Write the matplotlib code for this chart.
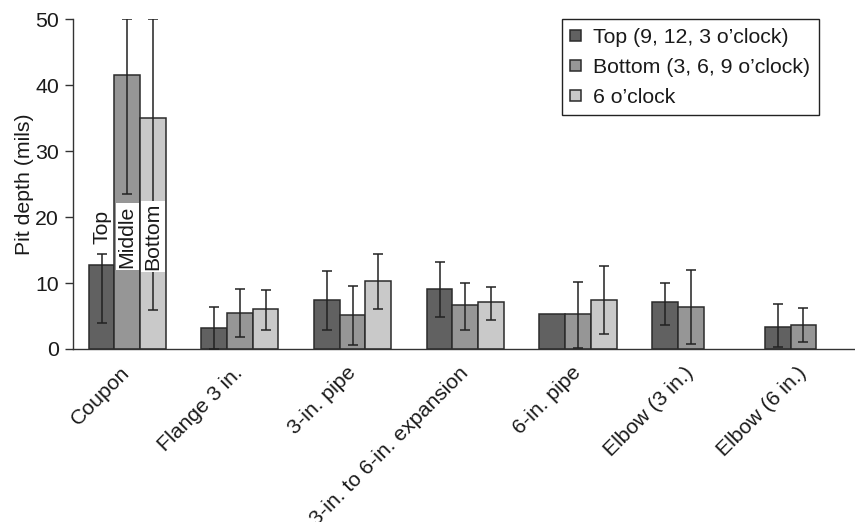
import numpy as np
import matplotlib
matplotlib.use("Agg")
import matplotlib.pyplot as plt

plt.rcParams['font.family'] = ['Liberation Sans', 'DejaVu Sans']

categories = ["Coupon", "Flange 3 in.", "3-in. pipe", "3-in. to 6-in. expansion",
              "6-in. pipe", "Elbow (3 in.)", "Elbow (6 in.)"]
series_names = ["Top (9, 12, 3 o\u2019clock)", "Bottom (3, 6, 9 o\u2019clock)", "6 o\u2019clock"]

nan = np.nan
top_mean = [12.8, 3.2, 7.5, 9.1, 5.3, 7.1, 3.4]
top_low = [3.9, 0.0, 2.9, 4.8, nan, 3.7, 0.35]
top_high = [14.4, 6.4, 11.9, 13.2, nan, 10.05, 6.9]

bottom_mean = [41.6, 5.5, 5.1, 6.6, 5.3, 6.4, 3.6]
bottom_low = [23.5, 1.8, 0.55, 2.9, 0.2, 0.75, 1.1]
bottom_high = [50.0, 9.15, 9.55, 10.05, 10.2, 12.05, 6.2]

six_mean = [35.1, 6.0, 10.3, 7.1, 7.4, nan, nan]
six_low = [5.85, 2.9, 6.05, 4.4, 2.3, nan, nan]
six_high = [50.0, 9.0, 14.35, 9.35, 12.6, nan, nan]

fills = ["#616161", "#969696", "#c9c9c9"]
edge = "#2b2b2b"
fs = 15.3

fig = plt.figure(figsize=(8.55, 5.22), dpi=100)
ax = fig.add_axes([72.7 / 855, 1 - 349 / 522, (854 - 72.7) / 855, (349 - 19.3) / 522])

x = np.arange(len(categories))
width = 0.228
groups = [(top_mean, top_low, top_high),
          (bottom_mean, bottom_low, bottom_high),
          (six_mean, six_low, six_high)]
for i, (mean, lo, hi) in enumerate(groups):
    mean = np.array(mean, float)
    lo = np.array(lo, float)
    hi = np.array(hi, float)
    pos = x + (i - 1) * width
    has_bar = ~np.isnan(mean)
    ax.bar(pos[has_bar], mean[has_bar], width, color=fills[i], edgecolor=edge,
           linewidth=1.1, label=series_names[i], zorder=2)
    ok = ~np.isnan(lo)
    ax.errorbar(pos[ok], mean[ok], yerr=[mean[ok] - lo[ok], hi[ok] - mean[ok]],
                fmt='none', ecolor="#222222", elinewidth=1.1, capsize=3.8,
                capthick=1.1, zorder=3, clip_on=True)

# Position labels inside the coupon group
ax.text(x[0] - width, 18.5, "Top", rotation=90, ha='center', va='center',
        fontsize=fs, color="#1a1a1a", zorder=4)
for off, txt in [(0, "Middle"), (1, "Bottom")]:
    ax.text(x[0] + off * width, 17.05, txt, rotation=90, ha='center', va='center',
            fontsize=fs, color="#1a1a1a", zorder=4,
            bbox=dict(facecolor='white', edgecolor='none', pad=1.5))

ax.set_xlim(-0.484, 6.449)
ax.set_ylim(0, 50)
ax.set_yticks([0, 10, 20, 30, 40, 50])
ax.set_xticks(x)
ax.set_xticklabels(categories, rotation=45, ha='right', va='center',
                   rotation_mode='anchor', fontsize=fs, color="#1a1a1a")
ax.tick_params(axis='x', length=0, pad=15)
ax.tick_params(axis='y', length=6, width=1.0, color="#333333", pad=4,
               labelsize=fs, labelcolor="#1a1a1a")
for s in ['top', 'right']:
    ax.spines[s].set_visible(False)
for s in ['left', 'bottom']:
    ax.spines[s].set_color("#333333")
    ax.spines[s].set_linewidth(1.0)
ax.set_ylabel("Pit depth (mils)", fontsize=fs, color="#1a1a1a", labelpad=0.5)

leg = ax.legend(loc='upper right', bbox_to_anchor=(0.955, 1.0), borderaxespad=0,
                fontsize=fs, handlelength=0.52, handleheight=0.42,
                handletextpad=0.56, borderpad=0.4, labelspacing=0.52,
                fancybox=False, framealpha=1)
leg.get_frame().set_edgecolor("#222222")
leg.get_frame().set_linewidth(1.0)
for t in leg.get_texts():
    t.set_color("#1a1a1a")

fig.savefig("out.png", dpi=100)
